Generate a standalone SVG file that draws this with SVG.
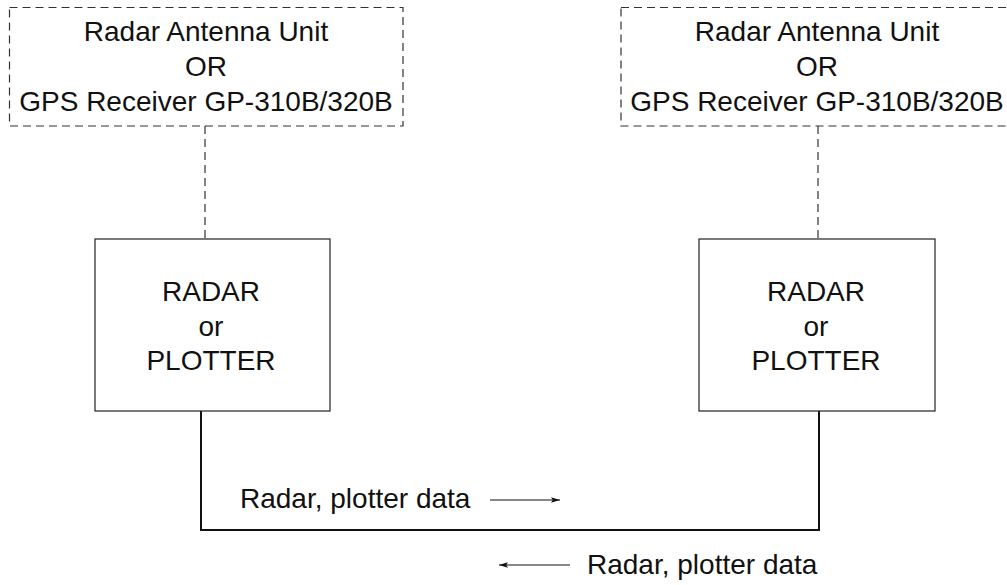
<svg xmlns="http://www.w3.org/2000/svg" width="1007" height="585" viewBox="0 0 1007 585">
<defs>
<style>
text{font-family:"Liberation Sans",Arial,Helvetica,sans-serif;font-size:28px;fill:#111;text-anchor:middle}
.dash{fill:none;stroke:#333;stroke-width:1.2;stroke-dasharray:8,5}
.box{fill:#fff;stroke:#222;stroke-width:1.2}
.wire{fill:none;stroke:#111;stroke-width:2}
.arr{fill:none;stroke:#111;stroke-width:1.1}
.lbl{text-anchor:start}
</style>
<marker id="ah" viewBox="0 0 10 6" refX="10" refY="3" markerWidth="9" markerHeight="6" markerUnits="userSpaceOnUse" orient="auto">
<path d="M0,0 L10,3 L0,6 L2,3 Z" fill="#111"/>
</marker>
</defs>
<rect width="1007" height="585" fill="#fff"/>
<g id="connectors">
<line class="dash" x1="205" y1="126" x2="205" y2="239"/>
<line class="dash" x1="818" y1="126" x2="818" y2="239"/>
<polyline class="wire" points="201,411 201,530 819,530 819,411"/>
<line class="arr" x1="490" y1="500" x2="560" y2="500" marker-end="url(#ah)"/>
<line class="arr" x1="570" y1="565" x2="499" y2="565" marker-end="url(#ah)"/>
</g>
<g id="antenna-left">
<rect class="dash" x="9.5" y="7.5" width="393.5" height="118.5"/>
<text x="206" y="41">Radar Antenna Unit</text>
<text x="206" y="75.5">OR</text>
<text x="206" y="110.5">GPS Receiver GP-310B/320B</text>
</g>
<g id="antenna-right">
<rect class="dash" x="621" y="7.5" width="393" height="118.5"/>
<text x="817" y="41">Radar Antenna Unit</text>
<text x="817" y="75.5">OR</text>
<text x="817" y="110.5">GPS Receiver GP-310B/320B</text>
</g>
<g id="radar-left">
<rect class="box" x="95" y="239" width="235" height="172"/>
<text x="211" y="301">RADAR</text>
<text x="211" y="335.5">or</text>
<text x="211" y="369.5">PLOTTER</text>
</g>
<g id="radar-right">
<rect class="box" x="699" y="239" width="236" height="172"/>
<text x="816" y="301">RADAR</text>
<text x="816" y="335.5">or</text>
<text x="816" y="369.5">PLOTTER</text>
</g>
<g id="label-forward">
<text class="lbl" x="240" y="508">Radar, plotter data</text>
</g>
<g id="label-back">
<text class="lbl" x="587" y="574">Radar, plotter data</text>
</g>
</svg>
